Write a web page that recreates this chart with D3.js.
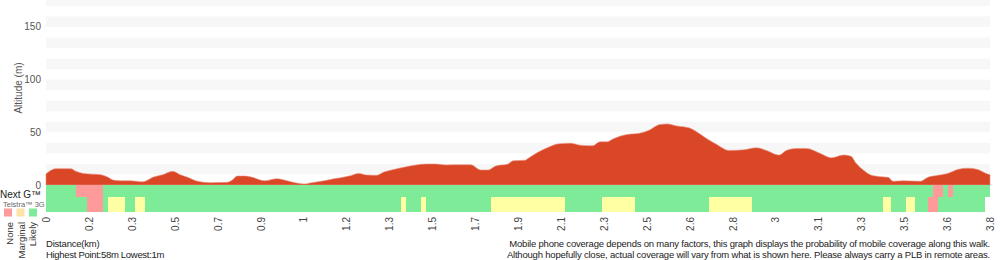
<!DOCTYPE html>
<html>
<head>
<meta charset="utf-8">
<script src="https://cdn.jsdelivr.net/npm/d3@7"></script>
<style>
  body { margin: 0; background: #fff; }
  svg text { font-family: "Liberation Sans", Arial, Helvetica, sans-serif; }
</style>
</head>
<body>
<div id="chart"></div>
<script>
// elevation profile (km, m)
const distKm = [0.00, 0.02, 0.04, 0.10, 0.12, 0.15, 0.22, 0.25, 0.27, 0.30, 0.34, 0.39, 0.41, 0.43, 0.47, 0.51, 0.54, 0.57, 0.61, 0.66,
  0.73, 0.75, 0.77, 0.80, 0.83, 0.88, 0.93, 0.95, 0.99, 1.04, 1.07, 1.12, 1.16, 1.18, 1.22, 1.26, 1.29, 1.33, 1.36, 1.40,
  1.45, 1.49, 1.53, 1.57, 1.61, 1.65, 1.71, 1.75, 1.78, 1.81, 1.86, 1.88, 1.93, 1.94, 1.98, 2.02, 2.06, 2.11, 2.15, 2.20,
  2.23, 2.26, 2.28, 2.34, 2.39, 2.43, 2.47, 2.50, 2.54, 2.59, 2.62, 2.66, 2.70, 2.75, 2.81, 2.86, 2.90, 2.95, 2.98, 3.02,
  3.06, 3.12, 3.16, 3.21, 3.24, 3.26, 3.29, 3.32, 3.36, 3.39, 3.41, 3.45, 3.52, 3.55, 3.59, 3.63, 3.67, 3.71, 3.75, 3.79, 3.80];
const altitude = [10.5, 14, 15.5, 15.5, 13, 11, 9.8, 7.3, 4.7, 4, 4, 3, 4.7, 7.3, 9.8, 13, 9.8, 7.3, 3.5, 2.2,
  2.5, 4.7, 8.5, 8.5, 7.3, 4, 6, 5.3, 2.8, 1, 2.2, 4, 6, 6.6, 8.5, 11, 9.5, 9.2, 12.3, 14.8,
  17.3, 19, 19.9, 19.9, 19, 19.2, 19.2, 14.2, 14.2, 18, 19.9, 23, 23.6, 25.2, 31, 35.6, 39, 39.7, 37.8, 37.2,
  41, 41, 43.5, 48, 49.2, 52.3, 57.4, 58, 56, 54.2, 50.4, 44, 38.5, 32.8, 33.4, 35.3, 32.8, 28.4, 32.8, 34.7,
  34.7, 29.6, 25.8, 28.5, 27.4, 21, 14.2, 9.5, 7.9, 7.3, 3.5, 4, 3.5, 7.3, 9.2, 11, 14.8, 16, 14.8, 10.4, 9.8];

// coverage segments: [startKm, endKm, level]  level: 0 none, 1 marginal, 2 likely
const nextGCoverage = [[0, 0.12, 2], [0.12, 0.23, 0], [0.23, 3.57, 2], [3.57, 3.61, 0], [3.61, 3.63, 2], [3.63, 3.65, 0], [3.65, 3.80, 2]];
const telstra3GCoverage = [[0, 0.165, 2], [0.165, 0.23, 0], [0.23, 0.25, 2], [0.25, 0.32, 1], [0.32, 0.36, 2], [0.36, 0.40, 1],
  [0.40, 1.43, 2], [1.43, 1.45, 1], [1.45, 1.51, 2], [1.51, 1.53, 1], [1.53, 1.79, 2], [1.79, 2.09, 1], [2.09, 2.24, 2],
  [2.24, 2.37, 1], [2.37, 2.67, 2], [2.67, 2.84, 1], [2.84, 3.37, 2], [3.37, 3.40, 1], [3.40, 3.46, 2], [3.46, 3.50, 1],
  [3.50, 3.55, 2], [3.55, 3.59, 0], [3.59, 3.78, 2]];

const xTickLabels = ["0", "0.2", "0.3", "0.5", "0.7", "0.9", "1", "1.2", "1.3", "1.5", "1.7", "1.9", "2.1", "2.3", "2.5", "2.6", "2.8", "3", "3.1", "3.3", "3.5", "3.6", "3.8"];
const yTicks = [0, 50, 100, 150];
const legendLabels = ["None", "Marginal", "Likely"];
const coverageColors = ["#ff9a9a", "#ffffa4", "#7deb98"];
const legendColors = ["#ff9a9a", "#ffe2a8", "#7deb98"];

const width = 1000, height = 260;
const svg = d3.select("#chart").append("svg")
  .attr("width", width).attr("height", height);

const x = d3.scaleLinear().domain([0, 3.8]).range([46, 990]);
const y = d3.scaleLinear().domain([0, 175.6]).range([185, 0]);
const xTick = d3.scalePoint().domain(xTickLabels).range([46, 990]);

// background bands every 20m
const bands = d3.range(10, 180, 20);
svg.append("g").selectAll("rect")
  .data(bands)
  .join("rect")
  .attr("x", x(0))
  .attr("width", x(3.8) - x(0))
  .attr("y", d => Math.max(0, y(d + 10)))
  .attr("height", d => y(d) - Math.max(0, y(d + 10)))
  .attr("fill", "#f7f7f7");

// elevation area
const profile = distKm.map((d, i) => ({ d, a: altitude[i] }));
const area = d3.area()
  .x(p => x(p.d))
  .y0(y(0))
  .y1(p => y(p.a))
  .curve(d3.curveMonotoneX);
svg.append("path")
  .datum(profile)
  .attr("d", area)
  .attr("fill", "#d94727")
  .attr("stroke", "#e98f7c")
  .attr("stroke-width", 0.6);

// coverage rows
const rows = [
  { data: nextGCoverage, y0: 185, h: 12 },
  { data: telstra3GCoverage, y0: 197, h: 15 }
];
rows.forEach(r => {
  svg.append("g").selectAll("rect")
    .data(r.data)
    .join("rect")
    .attr("x", d => x(d[0]))
    .attr("width", d => x(d[1]) - x(d[0]))
    .attr("y", r.y0)
    .attr("height", r.h)
    .attr("fill", d => coverageColors[d[2]])
    .attr("shape-rendering", "crispEdges");
});

// y axis labels
svg.append("g").selectAll("text")
  .data(yTicks)
  .join("text")
  .attr("x", 41)
  .attr("y", d => y(d) + 3.5)
  .attr("text-anchor", "end")
  .attr("font-size", 10)
  .attr("fill", "#555")
  .text(d => d);

svg.append("text")
  .attr("transform", "translate(22,88) rotate(-90)")
  .attr("text-anchor", "middle")
  .attr("font-size", 10)
  .attr("fill", "#555")
  .text("Altitude (m)");

// x tick labels
svg.append("g").selectAll("text")
  .data(xTickLabels)
  .join("text")
  .attr("transform", d => `translate(${xTick(d) + 4},217) rotate(-90)`)
  .attr("text-anchor", "end")
  .attr("font-size", 10)
  .attr("fill", "#444")
  .text(d => d);

// row labels
svg.append("text")
  .attr("x", 0).attr("y", 197.5)
  .attr("font-size", 10)
  .attr("fill", "#222")
  .text("Next G\u2122");
svg.append("text")
  .attr("x", 3).attr("y", 206.5)
  .attr("font-size", 7.5)
  .attr("fill", "#666")
  .text("Telstra\u2122 3G");

// legend
const legend = svg.append("g");
legend.selectAll("rect")
  .data(legendLabels)
  .join("rect")
  .attr("x", (d, i) => 4 + i * 12.5)
  .attr("y", 208.5)
  .attr("width", 8)
  .attr("height", 8)
  .attr("fill", (d, i) => legendColors[i]);
legend.selectAll("text")
  .data(legendLabels)
  .join("text")
  .attr("transform", (d, i) => `translate(${13 + i * 11.5},222) rotate(-90)`)
  .attr("text-anchor", "end")
  .attr("font-size", 9.5)
  .attr("fill", "#333")
  .text(d => d);

// footer text
svg.append("text")
  .attr("x", 46).attr("y", 247)
  .attr("font-size", 9.5)
  .attr("letter-spacing", -0.2)
  .attr("fill", "#222")
  .text("Distance(km)");
svg.append("text")
  .attr("x", 46).attr("y", 258)
  .attr("font-size", 9.5)
  .attr("letter-spacing", -0.3)
  .attr("fill", "#222")
  .text("Highest Point:58m Lowest:1m");

const notes = [
  "Mobile phone coverage depends on many factors, this graph displays the probability of mobile coverage along this walk.",
  "Although hopefully close, actual coverage will vary from what is shown here. Please always carry a PLB in remote areas."
];
svg.append("g").selectAll("text")
  .data(notes)
  .join("text")
  .attr("x", 990)
  .attr("y", (d, i) => 247 + i * 11)
  .attr("text-anchor", "end")
  .attr("font-size", 9.5)
  .attr("letter-spacing", -0.2)
  .attr("fill", "#222")
  .text(d => d);
</script>
</body>
</html>
